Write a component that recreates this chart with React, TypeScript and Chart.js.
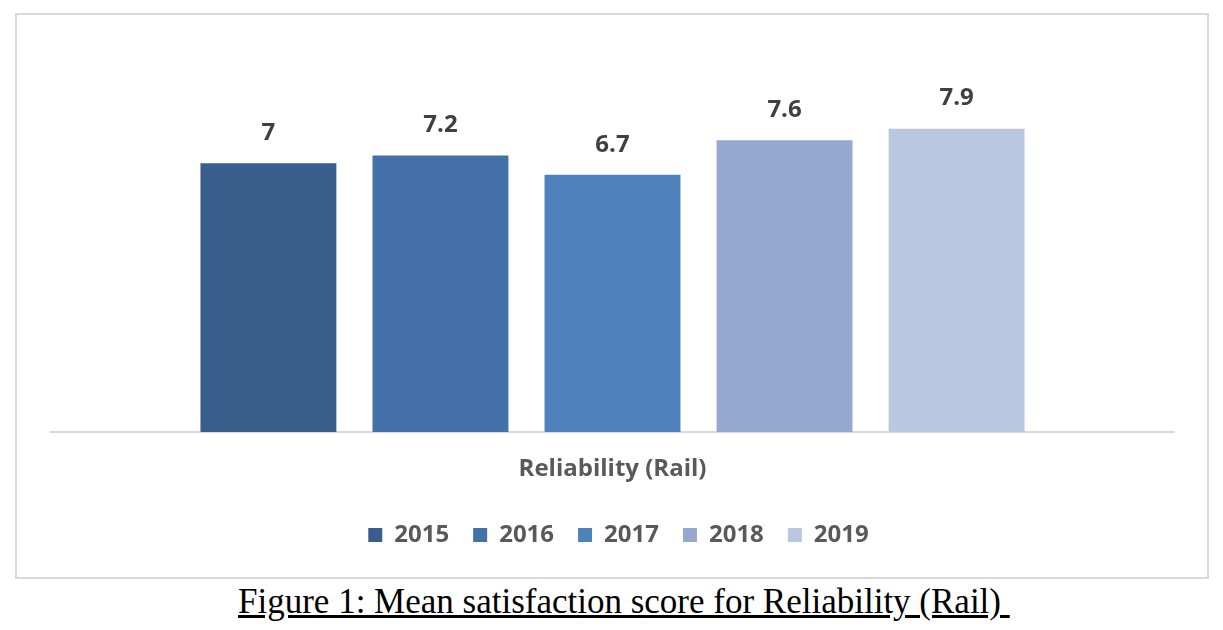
import React, { useEffect, useRef } from "react";
import { Chart, registerables } from "chart.js";

Chart.register(...registerables);

const categories = ["Reliability (Rail)"];
const years = ["2015", "2016", "2017", "2018", "2019"];
const values = [7, 7.2, 6.7, 7.6, 7.9];
const colors = ["#3A5E8C", "#4472A8", "#4F81BD", "#95A9CF", "#B9C8E0"];
const caption = "Figure 1: Mean satisfaction score for Reliability (Rail)";

const FONT = "'Open Sans', sans-serif";

const valueLabels = {
  id: "valueLabels",
  beforeDraw(chart: any) {
    const lg = chart.legend;
    if (lg && !lg._shifted) {
      lg.left += 6;
      lg.right += 6;
      lg._shifted = true;
    }
  },
  afterDatasetsDraw(chart: any) {
    const ctx = chart.ctx;
    ctx.save();
    ctx.font = `bold 24px ${FONT}`;
    ctx.fillStyle = "#404040";
    ctx.textAlign = "center";
    ctx.textBaseline = "middle";
    chart.data.datasets.forEach((ds: any, i: number) => {
      const meta = chart.getDatasetMeta(i);
      meta.data.forEach((bar: any, j: number) => {
        ctx.fillText(String(ds.data[j]), bar.x, bar.y - 30);
      });
    });
    ctx.restore();
  },
};

export default function App() {
  const ref = useRef<HTMLCanvasElement>(null);
  useEffect(() => {
    if (!ref.current) return;
    const chart = new Chart(ref.current, {
      type: "bar",
      data: {
        labels: categories,
        datasets: years.map((y, i) => ({
          label: y,
          data: [values[i]],
          backgroundColor: colors[i],
          borderWidth: 0,
          categoryPercentage: 0.766,
          barPercentage: 0.79,
        })),
      },
      options: {
        animation: false,
        responsive: false,
        maintainAspectRatio: false,
        layout: { padding: { left: 34, right: 33, top: 33, bottom: 20 } },
        scales: {
          x: {
            grid: { display: false, drawTicks: false },
            border: { display: true, color: "#d9d9d9", width: 2 },
            ticks: {
              color: "#595959",
              font: { family: FONT, size: 24, weight: "bold" },
              padding: 23,
            },
            afterFit: (scale: any) => {
              scale.height = 67;
            },
          },
          y: { display: false, min: 0, max: 10 },
        },
        plugins: {
          legend: {
            position: "bottom",
            labels: {
              boxWidth: 14,
              boxHeight: 14,
              padding: 24,
              color: "#595959",
              font: { family: FONT, size: 24, weight: "bold" },
            },
          },
          tooltip: { enabled: false },
        },
      },
      plugins: [valueLabels],
    });
    return () => chart.destroy();
  }, []);

  return (
    <div style={{ position: "absolute", left: 0, top: 0, width: 1223, height: 630, background: "#fff" }}>
      <div
        style={{
          position: "absolute",
          left: 15,
          top: 13,
          width: 1194,
          height: 566,
          border: "2px solid #d9d9d9",
          boxSizing: "border-box",
        }}
      >
        <canvas ref={ref} width={1190} height={562} style={{ display: "block" }} />
      </div>
      <div
        style={{
          position: "absolute",
          left: 238,
          top: 582,
          fontFamily: "'Liberation Serif', 'Times New Roman', serif",
          fontSize: 35,
          lineHeight: "normal",
          color: "#000",
          textDecoration: "underline",
          whiteSpace: "pre",
        }}
      >
        {caption + " "}
      </div>
    </div>
  );
}
